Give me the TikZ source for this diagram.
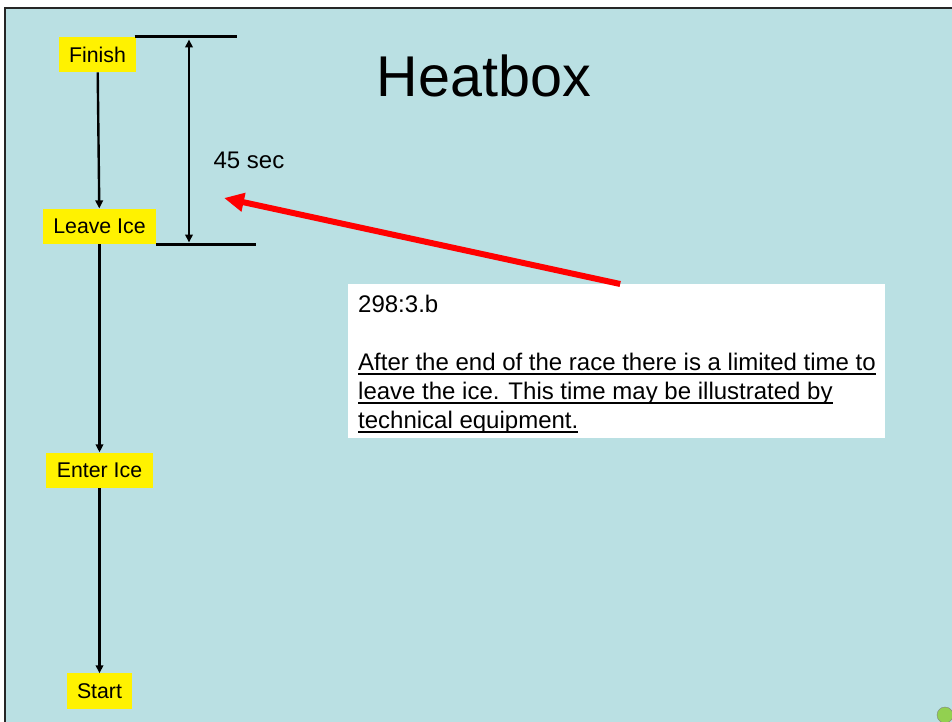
\documentclass[tikz,border=0pt]{standalone}
\usepackage{fontspec}
\setmainfont{Liberation Sans}
\usetikzlibrary{arrows.meta,positioning}

\definecolor{slidebg}{RGB}{186,224,227}
\definecolor{dotgreen}{RGB}{146,208,80}
\newsavebox\ulbox
\newcommand\ulined[1]{\sbox\ulbox{#1}\rlap{\rule[-4.5pt]{\wd\ulbox}{1.8pt}}\usebox\ulbox}

\begin{document}
\begin{tikzpicture}[
    x=1pt, y=-1pt,
    stage/.style={rectangle,fill=yellow,inner xsep=10.5pt,inner ysep=0pt,minimum height=35.5pt,font=\fontsize{21.3}{25}\selectfont},
    body/.style={anchor=base west,inner sep=0pt,font=\fontsize{24}{29}\selectfont},
    line/.style={draw,line width=2.4pt,-{Triangle[length=8pt,width=7.5pt]}},
    bar/.style={draw,line width=2.6pt},
    dimline/.style={draw,line width=2.4pt,{Triangle[length=8pt,width=7.5pt]}-{Triangle[length=8pt,width=7.5pt]}},
    pointer/.style={draw,red,line width=6pt,-{Triangle[length=20pt,width=18pt]}}]

    % Slide
    \useasboundingbox (0,0) rectangle (952,722);
    \fill[slidebg] (5,8) rectangle (952,722);
    \draw[line width=2pt,black!85] (5,722) -- (5,8) -- (952,8);
    \draw[gray,fill=dotgreen] (945,715) circle (8pt);

    % Title
    \node[anchor=base,inner sep=0pt,font=\fontsize{57.5}{69}\selectfont] (title) at (484,97) {Heatbox};

    % Stages
    \node[stage] (finish) at (97.5,54.5) {Finish};
    \node[stage, below=136pt of finish, xshift=2pt] (leave) {Leave Ice};
    \node[stage, below=208pt of leave] (enter) {Enter Ice};
    \node[stage, below=185pt of enter] (start) {Start};

    % Connect stages
    \path[line] (finish) -- (leave);
    \path[line] (leave) -- (enter);
    \path[line] (enter) -- (start);

    % 45 sec span
    \path[bar] ([xshift=-2pt]finish.north east) -- ++(102,0);
    \path[bar] (leave.south east) -- ++(100,0);
    \coordinate (spantop) at (189,39.5);
    \coordinate (spanbot) at (189,242.5);
    \path[dimline] (spantop) -- (spanbot);
    \node[font=\fontsize{24}{29}\selectfont] (secs) at (249,160) {45 sec};

    % Rule text
    \node[fill=white,anchor=north west,inner sep=0pt,minimum width=537pt,minimum height=154pt] (rulebox) at (348,284) {};
    \node[body] (ruleno) at (358,312) {298:3.b};
    \node[body] (rule1) at (358,370) {\ulined{After the end of the race there is a limited time to}};
    \node[body] (rule2) at (358,399) {\ulined{leave the ice. This time may be illustrated by}};
    \node[body] (rule3) at (358,428) {\ulined{technical equipment.}};

    % Pointer
    \coordinate (aim) at (224,198);
    \path[pointer] ([xshift=3.5pt]rulebox.north) -- (aim);
\end{tikzpicture}
\end{document}
